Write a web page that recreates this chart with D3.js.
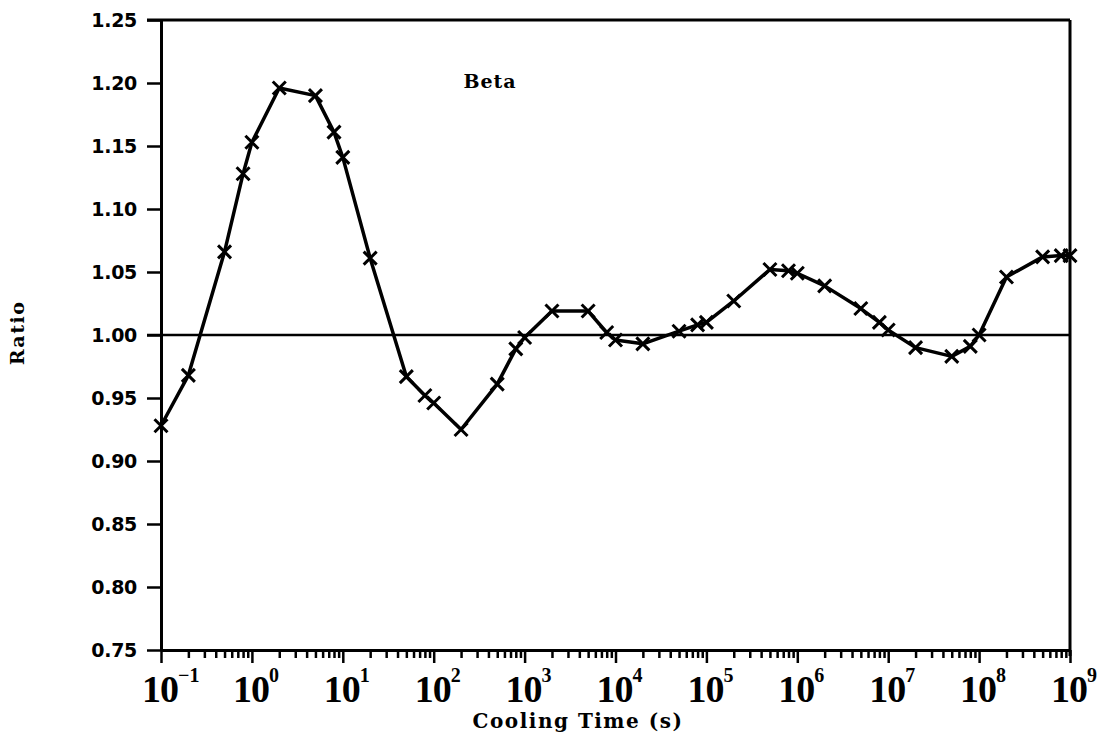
<!DOCTYPE html>
<html>
<head>
<meta charset="utf-8">
<script src="https://cdn.jsdelivr.net/npm/d3@7"></script>
<style>
  body { margin: 0; background: #fff; }
  svg { display: block; }
</style>
</head>
<body>
<div id="chart-area"></div>
<script>
// cooling time (s) and ratio
var times = [0.1, 0.2, 0.5, 0.8, 1, 2, 5, 8, 10, 20, 50, 80, 100, 200, 500, 800,
    1e3, 2e3, 5e3, 8e3, 1e4, 2e4, 5e4, 8e4, 1e5, 2e5, 5e5, 8e5, 1e6, 2e6, 5e6, 8e6,
    1e7, 2e7, 5e7, 8e7, 1e8, 2e8, 5e8, 8e8, 1e9];
var ratios = [0.928, 0.968, 1.066, 1.128, 1.153, 1.196, 1.190, 1.161, 1.141, 1.061,
    0.967, 0.952, 0.946, 0.925, 0.961, 0.989, 0.998, 1.019, 1.019, 1.002,
    0.996, 0.993, 1.003, 1.008, 1.010, 1.027, 1.052, 1.051, 1.049, 1.039,
    1.021, 1.010, 1.004, 0.990, 0.983, 0.991, 1.000, 1.046, 1.062, 1.063, 1.063];
var yTicks = [0.75, 0.80, 0.85, 0.90, 0.95, 1.00, 1.05, 1.10, 1.15, 1.20, 1.25];
var decades = [-1, 0, 1, 2, 3, 4, 5, 6, 7, 8, 9];

var W = 1105, H = 739;
// plot box (note: "top" is a reserved window prop, so use pTop etc)
var pLeft = 161, pRight = 1070, pTop = 20, pBottom = 650;

var svg = d3.select("#chart-area").append("svg")
    .attr("width", W)
    .attr("height", H);

var x = d3.scaleLog()
    .domain([0.1, 1e9])
    .range([pLeft, pRight]);

var y = d3.scaleLinear()
    .domain([0.75, 1.25])
    .range([pBottom, pTop]);

// all minor + major tick positions
var xTickVals = [];
decades.forEach((d) => {
    if (d < 9) {
        for (var k = 1; k <= 9; k++) xTickVals.push(k * Math.pow(10, d));
    } else {
        xTickVals.push(1e9);
    }
});

// y axis
var yAxis = svg.append("g")
    .attr("transform", "translate(" + pLeft + ",0)")
    .call(d3.axisLeft(y)
        .tickValues(yTicks)
        .tickFormat(d3.format(".2f"))
        .tickSize(14)
        .tickSizeOuter(0)
        .tickPadding(10));
yAxis.select(".domain").attr("stroke-width", 3);
yAxis.selectAll(".tick line").attr("stroke-width", 2.5);
yAxis.selectAll(".tick text")
    .attr("font-family", "DejaVu Sans")
    .attr("font-weight", "bold")
    .attr("font-size", 19)
    .attr("letter-spacing", -0.3)
    .attr("fill", "#000");

// x axis
var xAxis = svg.append("g")
    .attr("transform", "translate(0," + pBottom + ")")
    .call(d3.axisBottom(x)
        .tickValues(xTickVals)
        .tickFormat("")
        .tickSize(8)
        .tickSizeOuter(0));
xAxis.select(".domain").attr("stroke-width", 3);
xAxis.selectAll(".tick line")
    .attr("stroke-width", 2.5)
    .attr("y2", (d) => {
        var l = Math.log10(d);
        return Math.abs(l - Math.round(l)) < 1e-9 ? 13 : 8;
    });

// frame top + right
svg.append("line")
    .attr("x1", pLeft - 14).attr("x2", pRight)
    .attr("y1", y(1.25)).attr("y2", y(1.25))
    .attr("stroke", "#000").attr("stroke-width", 3);
svg.append("line")
    .attr("x1", pRight).attr("x2", pRight)
    .attr("y1", pTop).attr("y2", pBottom + 6)
    .attr("stroke", "#000").attr("stroke-width", 3);

// reference line at 1.00
svg.append("line")
    .attr("x1", pLeft - 14).attr("x2", pRight)
    .attr("y1", y(1)).attr("y2", y(1))
    .attr("stroke", "#000").attr("stroke-width", 2.5);

// decade labels 10^n
var lab = svg.append("g").selectAll("g")
    .data(decades)
    .enter()
    .append("g")
    .attr("transform", (d) => "translate(" + x(Math.pow(10, d)) + ",0)");
lab.append("text")
    .attr("x", -1)
    .attr("y", 702)
    .attr("text-anchor", "middle")
    .attr("font-family", "Liberation Serif")
    .attr("font-weight", "bold")
    .attr("font-size", 38)
    .attr("letter-spacing", -1)
    .text("10");
lab.append("text")
    .attr("x", 17)
    .attr("y", 682)
    .attr("font-family", "Liberation Serif")
    .attr("font-weight", "bold")
    .attr("font-size", 20)
    .text((d) => d < 0 ? "\u2212" + Math.abs(d) : d);

// line + markers
var line = d3.line()
    .x((d, i) => x(times[i]))
    .y((d) => y(d));

svg.append("path")
    .datum(ratios)
    .attr("d", line)
    .attr("fill", "none")
    .attr("stroke", "#000")
    .attr("stroke-width", 3.5)
    .attr("stroke-linejoin", "round");

svg.selectAll(".mark")
    .data(ratios)
    .enter()
    .append("path")
    .attr("class", "mark")
    .attr("transform", (d, i) => "translate(" + x(times[i]) + "," + y(d) + ")")
    .attr("d", "M-6.5,-6.5L6.5,6.5M-6.5,6.5L6.5,-6.5")
    .attr("stroke", "#000")
    .attr("stroke-width", 3)
    .attr("fill", "none");

// texts
svg.append("text")
    .attr("x", 490)
    .attr("y", 88)
    .attr("text-anchor", "middle")
    .attr("font-family", "DejaVu Serif")
    .attr("font-weight", "bold")
    .attr("font-size", 19)
    .attr("letter-spacing", 1)
    .text("Beta");

svg.append("text")
    .attr("x", 578)
    .attr("y", 728)
    .attr("text-anchor", "middle")
    .attr("font-family", "DejaVu Serif")
    .attr("font-weight", "bold")
    .attr("font-size", 20)
    .attr("letter-spacing", 1.5)
    .text("Cooling Time (s)");

svg.append("text")
    .attr("transform", "translate(24,333) rotate(-90)")
    .attr("text-anchor", "middle")
    .attr("font-family", "DejaVu Serif")
    .attr("font-weight", "bold")
    .attr("font-size", 19)
    .attr("letter-spacing", 1.5)
    .text("Ratio");
</script>
</body>
</html>
